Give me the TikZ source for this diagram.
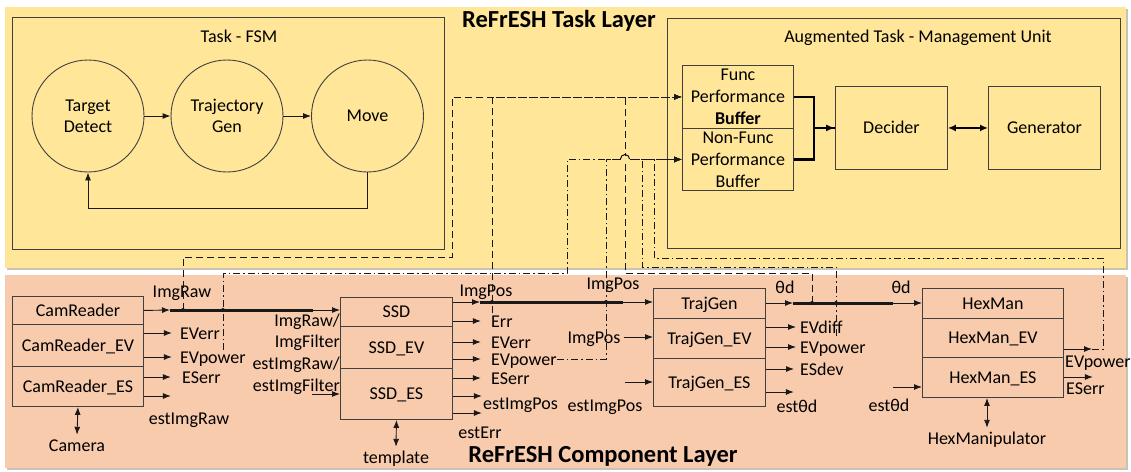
\documentclass[tikz,border=0pt]{standalone}
\usepackage{fontspec}
\setmainfont{Carlito}
\usetikzlibrary{arrows.meta,calc}
\definecolor{taskfill}{HTML}{FFE699}
\definecolor{compfill}{HTML}{F8CBAD}
\definecolor{edgegray}{HTML}{404040}
\definecolor{shadowgray}{HTML}{C9C2B6}
\begin{document}
\begin{tikzpicture}[x=1pt,y=-1pt,
  font=\fontsize{18}{22}\selectfont,
  blk/.style={draw=edgegray,line width=0.9pt,inner sep=0pt,anchor=north west,align=center},
  one/.style={text height=12pt,text depth=0pt},
  fsmstate/.style={draw=edgegray,circle,line width=0.9pt,minimum size=112pt,inner sep=0pt,align=center,font=\fontsize{18}{21}\selectfont},
  lbl/.style={inner sep=0pt,text height=12pt,text depth=0pt},
  layertitle/.style={inner sep=0pt,font=\fontsize{24.5}{28}\selectfont\bfseries},
  arr/.style={draw=black!90,line width=0.9pt,-{Latex[length=8pt,width=6pt]}},
  dbl/.style={draw=black!90,line width=0.9pt,{Latex[length=8pt,width=6pt]}-{Latex[length=8pt,width=6pt]}},
  bus/.style={draw=black!90,line width=3pt},
  fdash/.style={line width=0.9pt,dash pattern=on 7pt off 4pt},
  ndash/.style={line width=0.9pt,dash pattern=on 7pt off 3pt on 1.5pt off 3pt},
]
\useasboundingbox (0,0) rectangle (1131,471);

% layer panels with a soft drop shadow
\fill[shadowgray] (7,9) rectangle (1128,270);
\fill[taskfill] (5,7) rectangle (1126,268);
\fill[shadowgray] (7,277) rectangle (1128,470);
\fill[compfill] (5,275) rectangle (1126,468);

% ---------------- task layer ----------------
\node[layertitle] (tasktitle) at (559,21) {ReFrESH Task Layer};

\node[blk,minimum width=432pt,minimum height=232pt] (fsm) at (12,17) {};
\node[lbl] (fsmtitle) at (239,36) {Task - FSM};
\node[fsmstate] (td) at (88,116) {Target\\Detect};
\node[fsmstate] (tg) at (227,116) {Trajectory\\Gen};
\node[fsmstate] (mv) at (367.5,116) {Move};
\draw[arr] (td) -- (tg);
\draw[arr] (tg) -- (mv);
\draw[arr] (mv.south) -- ++(0,36) -| (td.south);

\node[blk,minimum width=453pt,minimum height=230pt] (atmu) at (667,18) {};
\node[lbl] (atmutitle) at (918,36) {Augmented Task - Management Unit};
\node[blk,minimum width=111pt,minimum height=63pt] (fb) at (682,65) {Func\\Performance\\\textbf{Buffer}};
\node[blk,minimum width=111pt,minimum height=62pt] (nfb) at (682,128) {Non-Func\\Performance\\Buffer};
\node[blk,one,minimum width=112pt,minimum height=83pt] (dec) at (835,86) {Decider};
\node[blk,one,minimum width=112pt,minimum height=83pt] (gen) at (988,86) {Generator};
\draw[line width=2.2pt] (fb.east) -- ++(20,0) |- (dec.west);
\draw[line width=2.2pt,-{Latex[length=9pt,width=7pt]}] (nfb.east) -- ++(20,0) |- (dec.west);
\draw[line width=1.8pt,{Latex[length=8pt,width=7pt]}-{Latex[length=8pt,width=7pt]}] (dec) -- (gen);

% ---------------- component layer ----------------
\node[layertitle] (comptitle) at (603,456) {ReFrESH Component Layer};

% CamReader
\node[blk,one,minimum width=131pt,minimum height=28pt] (cr) at (12,296) {CamReader};
\node[blk,one,minimum width=131pt,minimum height=42pt] (crev) at (12,324) {CamReader\_EV};
\node[blk,one,minimum width=131pt,minimum height=40pt] (cres) at (12,366) {CamReader\_ES};
% SSD
\node[blk,one,minimum width=112pt,minimum height=29pt] (ssd) at (340,297) {SSD};
\node[blk,one,minimum width=112pt,minimum height=42pt] (ssdev) at (340,326) {SSD\_EV};
\node[blk,one,minimum width=112pt,minimum height=51pt] (ssdes) at (340,368) {SSD\_ES};
% TrajGen
\node[blk,one,minimum width=112pt,minimum height=30pt] (tj) at (653,288) {TrajGen};
\node[blk,one,minimum width=112pt,minimum height=40pt] (tjev) at (653,318) {TrajGen\_EV};
\node[blk,one,minimum width=112pt,minimum height=48pt] (tjes) at (653,358) {TrajGen\_ES};
% HexMan
\node[blk,one,minimum width=141pt,minimum height=30pt] (hm) at (922,288) {HexMan};
\node[blk,one,minimum width=141pt,minimum height=39pt] (hmev) at (922,318) {HexMan\_EV};
\node[blk,one,minimum width=141pt,minimum height=40pt] (hmes) at (922,357) {HexMan\_ES};

% CamReader ports
\node[lbl] (craw) at (182,291) {ImgRaw};
\node[lbl,anchor=west] (c1) at (180,333) {EVerr};
\node[lbl,anchor=west] (c2) at (180,357) {EVpower};
\node[lbl,anchor=west] (c3) at (182,377) {ESerr};
\node[lbl] (c4) at (189,418) {estImgRaw};
\node[lbl] (cam) at (77,445) {Camera};
\coordinate (rawA) at (170,310);
\coordinate (rawB) at (313,310);
\draw[arr] (cr.east) -- (rawA);
\draw[bus] (rawA) -- (rawB);
\draw[arr] (rawB) -- (ssd.west |- rawB);
\draw[arr] (crev.east |- c1.west) -- ++(28,0);
\draw[arr] (crev.east |- c2.west) -- ++(28,0);
\draw[arr] (cres.east |- c3.west) -- ++(27,0);
\draw[arr] (cres.east |- 0,396) -- ++(27,0);
\draw[dbl] (cres.south) -- ([yshift=4pt]cam.north);

% SSD ports
\node[lbl,anchor=east] (s1) at (340,320) {ImgRaw/};
\node[lbl,anchor=east] (s2) at (340,341) {ImgFilter};
\node[lbl,anchor=east] (s3) at (340,363) {estImgRaw/};
\node[lbl,anchor=east] (s4) at (340,385) {estImgFilter};
\coordinate (sin) at (312,394);
\draw[arr] (sin) -- (ssdes.west |- sin);
\node[lbl] (s5) at (486,290) {ImgPos};
\node[lbl,anchor=west] (s6) at (491,321) {Err};
\node[lbl,anchor=west] (s7) at (491,342) {EVerr};
\node[lbl,anchor=west] (s8) at (491,359) {EVpower};
\node[lbl,anchor=west] (s9) at (491,378) {ESerr};
\node[lbl,anchor=west] (s10) at (483,403) {estImgPos};
\node[lbl] (s11) at (480,432) {estErr};
\node[lbl] (tpl) at (396,457) {template};
\coordinate (posA) at (480,302);
\coordinate (posB) at (623,302);
\draw[arr] (ssd.east |- posA) -- (posA);
\draw[bus] (posA) -- (posB);
\draw[arr] (posB) -- (tj.west |- posB);
\draw[arr] (ssd.east |- s6.west) -- ++(28,0);
\draw[arr] (ssdev.east |- s7.west) -- ++(28,0);
\draw[arr] (ssdev.east |- s8.west) -- ++(28,0);
\draw[arr] (ssdes.east |- s9.west) -- ++(28,0);
\draw[arr] (ssdes.east |- 0,396) -- ++(29,0);
\draw[arr] (ssdes.east |- 0,413) -- ++(29,0);
\draw[dbl] (ssdes.south) -- ([yshift=4pt]tpl.north);

% TrajGen ports
\node[lbl] (t1) at (613,283) {ImgPos};
\node[lbl] (t2) at (594,337) {ImgPos};
\node[lbl] (t3) at (605,405) {estImgPos};
\coordinate (tin) at (625,382);
\draw[arr] ([xshift=3pt]t2.east) -- (tjev.west |- t2.east);
\draw[arr] (tin) -- (tjes.west |- tin);
\node[lbl] (t0) at (785,287) {θd};
\node[lbl,anchor=west] (t4) at (800,327) {EVdiff};
\node[lbl,anchor=west] (t5) at (800,347) {EVpower};
\node[lbl,anchor=west] (t6) at (800,369) {ESdev};
\node[lbl] (t7) at (797,406) {estθd};
\coordinate (thA) at (793,303);
\coordinate (thB) at (893,303);
\draw[arr] (tj.east |- thA) -- (thA);
\draw[bus] (thA) -- (thB);
\draw[arr] (thB) -- (hm.west |- thB);
\draw[arr] (tjev.east |- t4.west) -- ([xshift=-4pt]t4.west);
\draw[arr] (tjev.east |- t5.west) -- ([xshift=-4pt]t5.west);
\draw[arr] (tjes.east |- t6.west) -- ([xshift=-6pt]t6.west);
\draw[arr] (tjes.east |- 0,392) -- ++(28,0);

% HexMan ports
\node[lbl] (h0) at (901,287) {θd};
\node[lbl] (h1) at (889,405) {estθd};
\node[lbl,anchor=west] (h2) at (1065,361) {EVpower};
\node[lbl,anchor=west] (h3) at (1066,388) {ESerr};
\node[lbl] (hx) at (987,438) {HexManipulator};
\coordinate (hin) at (893,387);
\draw[arr] (hin) -- (hmes.west |- hin);
\coordinate (hv) at (1092,349);
\draw[arr] (hmev.east |- hv) -- (hv);
\draw[arr] (hmes.east |- 0,377) -- ++(29,0);
\draw[dbl] (hx.north |- hmes.south) -- ([yshift=4pt]hx.north);

% functional performance feedback (dashed)
\coordinate (jr) at (183,310);
\coordinate (je) at (492,313);
\coordinate (jt) at (812,303);
\draw[fdash,arr] (jr) |- (452,257) |- (fb.west);
\draw[fdash,arr] (je) |- (fb.west);
\draw[fdash,arr] (jt) |- (625,273) |- (fb.west);

% non-functional performance feedback (dash-dot)
\coordinate (jc) at (223,350);
\coordinate (jd) at (836,336);
\draw[ndash,arr] (jc) |- (567,273) |- (nfb.west);
\draw[ndash,arr] (s8.east) -- (606,359) |- (nfb.west);
\draw[ndash,arr] (jd) |- (642,267) |- (nfb.west);
\draw[ndash,arr] (hv) -- (1103,349) |- (654,258) |- (nfb.west);

% line hop where the dashed line crosses the dash-dot one
\fill[taskfill] (620.5,156) rectangle (629.5,161);
\draw[line width=0.9pt] (620.5,159) arc[start angle=180,end angle=0,radius=4.5pt];

% junctions on the data lines
\foreach \p in {(183,310),(223,310),(492,302),(606,302),(812,303),(836,303)}
  \fill[black!90] \p circle (2pt);
\end{tikzpicture}
\end{document}
